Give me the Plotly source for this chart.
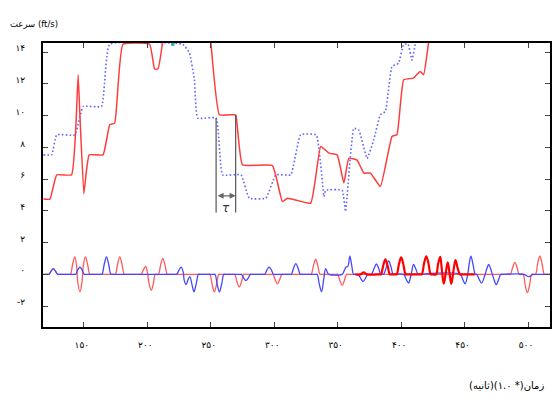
import plotly.graph_objects as go

# ---- data ----
lead_x = [118.1, 124.6, 128.6, 142.9, 149.5, 163.9, 170.4, 227.9, 233.2, 237.1, 239.7, 254.2, 259.3,
          273.8, 280.3, 293.4, 301.3, 313.0, 320.8, 333.1, 339.2, 340.5, 353.5, 356.2, 362.7, 366.6,
          373.2, 378.4, 383.7, 387.6, 392.8, 398.0, 402.0, 405.5, 408.5, 411.1, 413.0]
lead_v = [7.53, 7.53, 8.79, 8.79, 10.58, 10.58, 14.5, 14.5, 13.95, 12.26, 9.85, 9.85, 6.27,
          6.27, 4.8, 4.8, 6.27, 6.27, 8.79, 8.79, 4.9, 5.3, 5.3, 3.96, 9.2, 9.1,
          7.3, 8.48, 10.06, 10.27, 13.1, 13.3, 14.5, 14.5, 13.5, 14.5, 16.0]

foll_x = [118.1, 123.3, 128.6, 140.3, 143.5, 145.5, 146.9, 150.0, 152.0, 154.2, 165.1, 170.4, 174.3,
          180.8, 201.8, 205.7, 208.3, 211.8, 213.5, 248.5, 250.2, 256.8, 268.5, 269.9, 275.0, 298.6,
          306.4, 310.4, 328.7, 336.6, 343.1, 349.6, 354.9, 358.8, 365.3, 370.6, 375.8, 383.7, 392.8,
          396.7, 402.0, 409.8, 415.0, 417.7, 421.6, 424.0]
foll_v = [4.74, 4.74, 6.27, 6.27, 9.0, 12.58, 10.0, 5.07, 6.5, 7.53, 7.53, 9.43, 9.53,
          14.5, 14.5, 12.94, 12.94, 14.5, 16.0, 16.0, 14.5, 10.06, 10.06, 10.0, 6.9, 6.85,
          4.59, 4.8, 4.49, 8.06, 7.64, 7.53, 5.75, 7.32, 7.2, 6.38, 6.38, 5.53, 8.69,
          8.8, 12.26, 12.37, 12.79, 12.58, 14.6, 16.0]

cyan_x = [218.5, 219.6, 220.6, 221.7]
cyan_v = [15.0, 14.45, 14.45, 15.0]

acc_b_x = [118.1, 121.4, 122.5, 124.2, 125.9, 127.6, 129.3, 130.3,
           142.4, 143.5, 145.2, 146.9, 148.6, 150.3, 151.3,
           163.3, 164.3, 166.1, 167.8, 169.5, 171.3, 172.3,
           222.2, 223.2, 225.0, 226.7, 228.4, 229.0, 230.6, 232.0, 233.5, 235.2, 236.8, 238.5, 240.3, 241.3,
           252.3, 253.3, 255.1, 256.8, 258.5, 260.3, 261.3,
           273.2, 274.2, 276.0, 277.7, 279.4, 281.2, 282.2,
           291.5, 292.5, 294.3, 296.0, 297.7, 299.5, 300.5,
           312.5, 313.5, 315.3, 317.0, 318.7, 320.5, 321.5,
           332.8, 333.8, 335.6, 337.3, 339.0, 340.5, 342.0, 343.0,
           353.5, 355.0, 356.5, 358.0, 359.6, 361.0, 362.5, 363.5,
           366.0, 368.3, 370.0, 371.7, 373.5, 374.5,
           376.5, 378.8, 380.5, 382.2, 384.0, 385.0,
           386.2, 388.5, 390.2, 391.9, 393.7, 394.7,
           401.9, 404.2, 405.9, 407.9, 409.8, 411.5, 413.3, 414.3,
           446.5, 448.7, 450.4, 452.7, 453.5, 455.0, 456.7, 458.5, 459.5,
           461.7, 463.4, 466.2, 467.5, 469.0, 470.5, 471.9, 473.5, 475.0, 476.7, 478.5, 479.5,
           497.0, 500.5, 504.0, 505.0, 517.3]
acc_b_v = [0, 0, 0, 0.2, 0.36, 0.2, 0, 0,
           0, 0, 0.28, 0.46, 0.28, 0, 0,
           0, 0, 0.65, 1.1, 0.65, 0, 0,
           0, 0, 0.28, 0.46, 0.1, -0.35, -0.65, -0.35, -0.15, -0.65, -1.1, -0.6, 0, 0,
           0, 0, -0.65, -1.1, -0.65, 0, 0,
           0, 0, -0.25, -0.4, -0.25, 0, 0,
           0, 0, 0.28, 0.46, 0.28, 0, 0,
           0, 0, 0.4, 0.67, 0.4, 0, 0,
           0, 0, -0.65, -1.1, -0.3, 0.36, 0.1, 0,
           0, 0.2, 0.45, 0.5, 1.14, 0.6, 0, 0,
           0, -0.28, -0.45, -0.28, 0, 0,
           0, 0.4, 0.65, 0.4, 0, 0,
           0, 0.5, 0.85, 0.5, 0, 0,
           0, -0.35, -0.55, 0, 0.62, 0.35, 0, 0,
           0, -0.35, -0.6, 0.1, 0.6, 1.14, 0.6, 0, 0,
           -0.35, -0.55, 0, 0.35, 0.62, 0.35, 0, -0.4, -0.65, -0.35, 0, 0,
           0, -0.15, 0, 0, 0]

acc_r_x = [118.1, 121.4, 122.5, 124.2, 125.9, 127.6, 129.3, 130.3,
           138.4, 139.4, 141.2, 142.9, 144.3, 145.2, 146.9, 148.5, 149.5, 151.2, 152.9, 154.7, 155.7,
           173.8, 174.8, 176.6, 178.3, 180.0, 181.8, 182.8,
           194.2, 195.2, 197.0, 198.7, 200.1, 201.4, 203.1, 204.7, 206.3,
           208.7, 210.5, 212.2, 213.9, 215.7, 216.7,
           248.3, 249.3, 251.1, 252.8, 254.5, 256.3, 257.3,
           267.9, 268.9, 270.7, 272.4, 274.1, 275.9, 276.9,
           298.0, 299.0, 300.8, 302.5, 304.2, 306.0, 307.0,
           328.1, 329.1, 330.9, 332.6, 334.3, 336.1, 337.1,
           349.0, 350.0, 351.8, 353.5, 355.2, 357.0, 358.0,
           485.1, 486.1, 487.9, 489.6, 491.3, 493.1,
           496.0, 497.8, 499.5, 501.2, 503.0,
           505.8, 507.6, 509.3, 511.0, 512.8, 513.8, 517.3]
acc_r_v = [0, 0, 0, 0.2, 0.36, 0.2, 0, 0,
           0, 0, 0.65, 1.1, 0.5, -0.5, -1.1, -0.5, 0.5, 1.1, 0.65, 0, 0,
           0, 0, 0.65, 1.1, 0.65, 0, 0,
           0, 0, 0.3, 0.5, 0.1, -0.6, -1.0, -0.6, 0,
           0, 0.6, 1.0, 0.6, 0, 0,
           0, 0, -0.65, -1.1, -0.65, 0, 0,
           0, 0, -0.5, -0.8, -0.5, 0, 0,
           0, 0, -0.35, -0.6, -0.35, 0, 0,
           0, 0, 0.55, 0.95, 0.55, 0, 0,
           0, 0, -0.4, -0.7, -0.4, 0, 0,
           0, 0, 0.45, 0.75, 0.45, 0,
           0, -0.7, -1.15, -0.7, 0,
           0, 0.7, 1.14, 0.7, 0, 0, 0]

acc_r2_x = [364.0, 368.0, 370.5, 373.0,
            383.1, 384.1, 385.9, 387.6, 389.3, 391.1, 392.1,
            395.5, 396.5, 398.3, 400.0, 401.7, 403.5, 404.5,
            415.3, 416.3, 418.1, 419.8, 421.5, 423.3, 424.3,
            427.5, 429.1, 430.8, 432.2, 433.6, 435.2, 436.7, 438.1, 439.5, 441.2, 442.8, 444.5, 446.3, 447.3,
            458.0]
acc_r2_v = [0, 0, 0.12, 0,
            0, 0, 0.55, 0.95, 0.55, 0, 0,
            0, 0, 0.65, 1.07, 0.65, 0, 0,
            0, 0, 0.7, 1.14, 0.7, 0, 0,
            0, 0.65, 1.1, 0.2, -0.58, 0.1, 0.75, 0.1, -0.6, 0.2, 0.9, 0.4, 0, 0,
            0]

tau_left, tau_right = 254.2, 269.6
tau_top_left, tau_top_right, tau_bottom = 9.85, 10.06, 3.9

y_ticks = [-2, 0, 2, 4, 6, 8, 10, 12, 14]
y_text = ["-۲", "۰", "۲", "۴", "۶", "۸", "۱۰", "۱۲", "۱۴"]
x_ticks = [150, 200, 250, 300, 350, 400, 450, 500]
x_text = ["۱۵۰", "۲۰۰", "۲۵۰", "۳۰۰", "۳۵۰", "۴۰۰", "۴۵۰", "۵۰۰"]

FONT = "DejaVu Sans"

fig = go.Figure()
fig.add_trace(go.Scatter(x=acc_r_x, y=acc_r_v, mode="lines",
                         line=dict(color="rgba(255,50,50,0.8)", width=1.3, shape="spline", smoothing=1.0)))
fig.add_trace(go.Scatter(x=acc_b_x, y=acc_b_v, mode="lines",
                         line=dict(color="rgb(70,70,255)", width=1.3, shape="spline", smoothing=1.0)))
fig.add_trace(go.Scatter(x=acc_r2_x, y=acc_r2_v, mode="lines",
                         line=dict(color="rgb(255,0,0)", width=2.2, shape="spline", smoothing=1.0)))
fig.add_trace(go.Scatter(x=lead_x, y=lead_v, mode="lines",
                         line=dict(color="rgb(100,100,255)", width=1.6, dash="1.6px,2.2px",
                                   shape="spline", smoothing=0.35)))
fig.add_trace(go.Scatter(x=foll_x, y=foll_v, mode="lines",
                         line=dict(color="rgb(255,60,60)", width=1.5, shape="spline", smoothing=0.35)))
fig.add_trace(go.Scatter(x=cyan_x, y=cyan_v, mode="lines", line=dict(color="rgb(40,190,190)", width=2)))

# tau markers
fig.add_trace(go.Scatter(x=[tau_left, tau_left], y=[tau_top_left, tau_bottom], mode="lines",
                         line=dict(color="#555", width=1.2)))
fig.add_trace(go.Scatter(x=[tau_right, tau_right], y=[tau_top_right, tau_bottom], mode="lines",
                         line=dict(color="#555", width=1.2)))
fig.add_annotation(x=tau_right, y=4.95, ax=tau_left, ay=4.95, xref="x", yref="y", axref="x", ayref="y",
                   text="", showarrow=True, arrowhead=2, arrowside="end+start", arrowsize=1,
                   arrowwidth=1.2, arrowcolor="#666")
fig.add_annotation(x=(tau_left + tau_right) / 2, y=4.15, xref="x", yref="y", text="<i>τ</i>", showarrow=False,
                   font=dict(family=FONT, size=12, color="#334"))

W, H = 553 - 43 - 1, 398 - 43 - 71
fig.add_annotation(x=(8 - 43) / W, y=(398 - 71 - 24) / H, xref="paper", yref="paper", text="سرعت (ft/s)",
                   showarrow=False, font=dict(family=FONT, size=8.5, color="black"),
                   xanchor="left", yanchor="middle")
fig.add_annotation(x=(548 - 43) / W, y=(398 - 71 - 385) / H, xref="paper", yref="paper",
                   text="زمان(* ۱.۰)(ثانیه)", showarrow=False,
                   font=dict(family=FONT, size=10, color="black"), xanchor="right", yanchor="middle")

fig.update_layout(
    width=553, height=398,
    margin=dict(l=43, r=1, t=43, b=71),
    paper_bgcolor="white", plot_bgcolor="white",
    showlegend=False,
    font=dict(family=FONT, size=9, color="black"),
)

fig.update_xaxes(range=[117.8, 517.3], showgrid=False, zeroline=False, showline=True, linecolor="black",
                 linewidth=2, mirror="allticks", ticks="inside", ticklen=5, tickwidth=1, tickcolor="#444",
                 tickvals=x_ticks, ticktext=x_text, ticklabelstandoff=8, ticklabelshift=-2,
                 tickfont=dict(family=FONT, size=9, color="black"))
fig.update_yaxes(range=[-3.32, 14.58], showgrid=False, zeroline=False, showline=True, linecolor="black",
                 linewidth=2, mirror="allticks", ticks="inside", ticklen=5, tickwidth=1, tickcolor="#444",
                 tickvals=y_ticks, ticktext=y_text, ticklabelstandoff=14, ticklabelshift=-4,
                 tickfont=dict(family=FONT, size=9, color="black"))

fig.write_html("out.html")
